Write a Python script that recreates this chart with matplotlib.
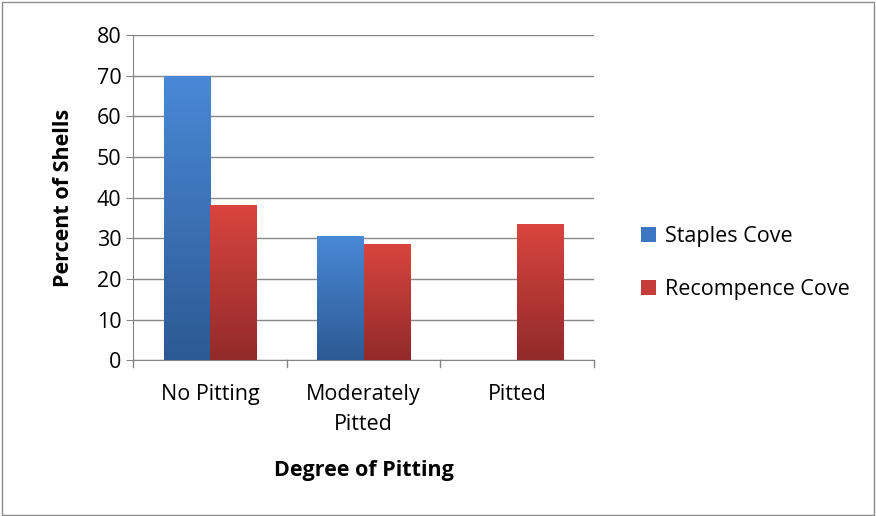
import matplotlib
matplotlib.use("Agg")
import matplotlib.pyplot as plt
import numpy as np
from matplotlib.colors import LinearSegmentedColormap
from matplotlib.patches import Rectangle, Patch

categories = ["No Pitting", "Moderately\nPitted", "Pitted"]
series = ["Staples Cove", "Recompence Cove"]
staples = [69.8, 30.4, 0]
recompence = [38.0, 28.5, 33.3]
yticks = [0, 10, 20, 30, 40, 50, 60, 70, 80]

plt.rcParams['font.family'] = ['Open Sans', 'DejaVu Sans']
fs = 15.5
fig = plt.figure(figsize=(8.76, 5.16), dpi=100)
fig.add_artist(Rectangle((0.002, 0.002), 0.996, 0.994, transform=fig.transFigure,
                         fill=False, edgecolor="#8c8c8c", lw=1))
ax = fig.add_axes([0.152, 0.302, 0.526, 0.63])

cmaps = [LinearSegmentedColormap.from_list("b", ["#2c5a94", "#4a88d6"]),
         LinearSegmentedColormap.from_list("r", ["#922b2a", "#d9443f"])]
solid = ["#3d77c4", "#c63c39"]
w = 0.3
x = np.arange(len(categories))
grad = np.linspace(0, 1, 100).reshape(-1, 1)
for i, vals in enumerate([staples, recompence]):
    for xi, v in zip(x, vals):
        if v <= 0:
            continue
        left = xi - w + i * w
        ax.imshow(grad, extent=(left, left + w, 0, v), origin="lower",
                  cmap=cmaps[i], aspect="auto", zorder=3)

ax.set_xlim(-0.5, 2.5)
ax.set_ylim(0, 80)
ax.set_yticks(yticks)
ax.set_xticks(x)
ax.set_xticklabels(categories, fontsize=fs, linespacing=1.6)
ax.tick_params(axis="y", labelsize=fs, length=5, color="#868686")
ax.tick_params(axis="x", length=0, pad=17)
for b in [-0.5, 0.5, 1.5, 2.5]:
    ax.plot([b, b], [0, -1.6], color="#868686", lw=1, clip_on=False)
ax.grid(axis="y", color="#868686", lw=1, zorder=0)
for s in ["top", "right"]:
    ax.spines[s].set_visible(False)
ax.spines["left"].set_color("#868686")
ax.spines["bottom"].set_color("#868686")
ax.set_ylabel("Percent of Shells", fontsize=fs, fontweight="bold", labelpad=16)
ax.set_xlabel("Degree of Pitting", fontsize=fs, fontweight="bold", labelpad=18)

handles = [Patch(facecolor=solid[0]), Patch(facecolor=solid[1])]
fig.legend(handles, series, loc="center left", bbox_to_anchor=(0.71, 0.49),
           frameon=False, fontsize=fs, handlelength=0.7, handleheight=0.7,
           labelspacing=1.5, handletextpad=0.4)
fig.savefig("out.png", dpi=100)
